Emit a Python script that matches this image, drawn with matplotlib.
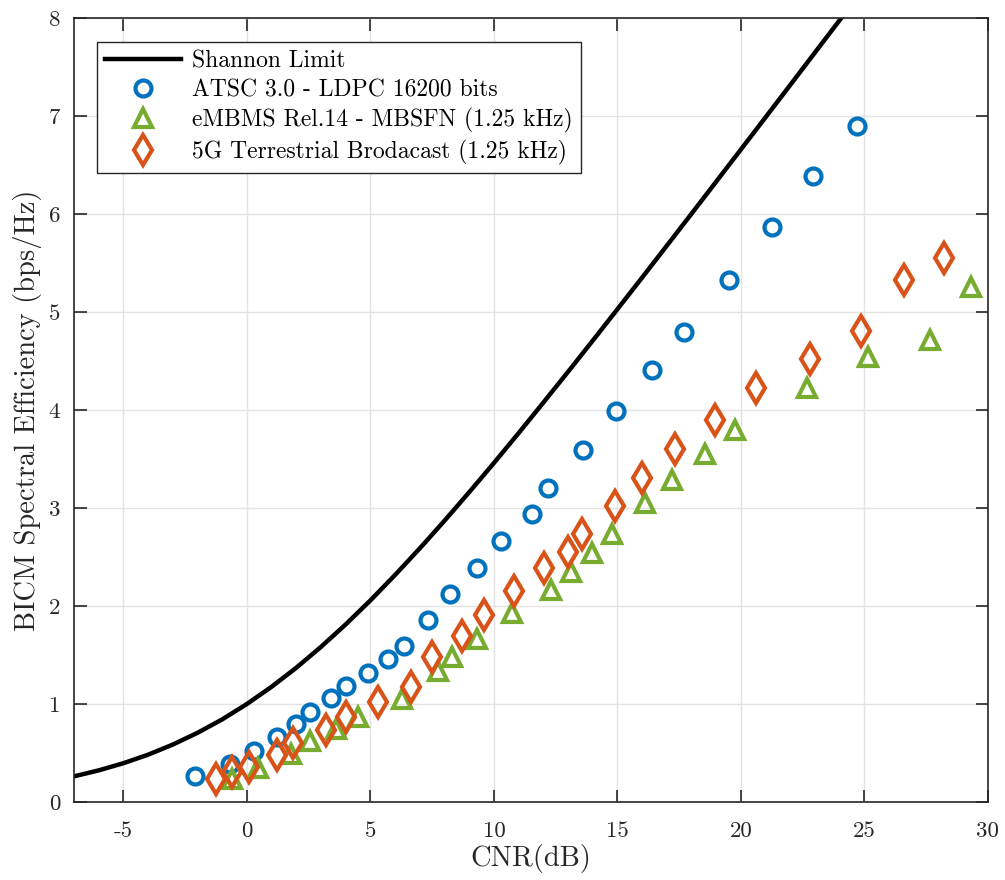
import matplotlib
matplotlib.use("Agg")
import matplotlib.pyplot as plt

plt.rcParams['font.family'] = 'serif'
plt.rcParams['font.serif'] = ['cmr10']
plt.rcParams['mathtext.fontset'] = 'cm'
plt.rcParams['axes.unicode_minus'] = False

# Shannon limit (bps/Hz) read at 1 dB steps
shannon_cnr = [-7, -6, -5, -4, -3, -2, -1, 0, 1, 2, 3, 4, 5, 6, 7, 8, 9, 10,
               11, 12, 13, 14, 15, 16, 17, 18, 19, 20, 21, 22, 23, 24, 25]
shannon_se = [0.262, 0.323, 0.396, 0.483, 0.586, 0.706, 0.843, 1.000, 1.176,
              1.370, 1.583, 1.812, 2.057, 2.317, 2.588, 2.870, 3.161, 3.459,
              3.764, 4.075, 4.389, 4.707, 5.028, 5.351, 5.676, 6.002, 6.330,
              6.658, 6.987, 7.317, 7.648, 7.978, 8.309]

atsc_cnr = [-2.1, -0.7, 0.28, 1.2, 2.0, 2.57, 3.4, 4.02, 4.9, 5.7, 6.38, 7.32,
            8.22, 9.33, 10.28, 11.53, 12.2, 13.6, 14.93, 16.4, 17.7, 19.53,
            21.26, 22.93, 24.72]
atsc_se = [0.265, 0.39, 0.52, 0.66, 0.80, 0.92, 1.06, 1.18, 1.32, 1.46, 1.59,
           1.86, 2.12, 2.39, 2.66, 2.94, 3.20, 3.59, 3.99, 4.41, 4.80, 5.33,
           5.87, 6.39, 6.90]

embms_cnr = [-0.6, 0.45, 1.8, 2.55, 3.6, 4.5, 6.3, 7.73, 8.29, 9.33, 10.72,
             12.3, 13.12, 13.98, 14.79, 16.11, 17.23, 18.56, 19.76, 22.66,
             25.13, 27.65, 29.3]
embms_se = [0.24, 0.35, 0.49, 0.62, 0.75, 0.87, 1.05, 1.34, 1.48, 1.66, 1.93,
            2.16, 2.35, 2.54, 2.73, 3.05, 3.29, 3.55, 3.80, 4.22, 4.54, 4.71,
            5.25]

g5_cnr = [-1.23, -0.6, 0.08, 1.2, 1.88, 3.2, 4.03, 5.32, 6.64, 7.48, 8.69,
          9.61, 10.81, 12.04, 13.0, 13.58, 14.9, 16.0, 17.34, 18.95, 20.6,
          22.8, 24.85, 26.61, 28.23]
g5_se = [0.235, 0.31, 0.36, 0.48, 0.60, 0.73, 0.87, 1.02, 1.17, 1.48, 1.69,
         1.91, 2.15, 2.39, 2.55, 2.73, 3.02, 3.31, 3.60, 3.90, 4.22, 4.52,
         4.81, 5.33, 5.55]

fig = plt.figure(figsize=(10.05, 8.8), dpi=100)
ax = fig.add_axes([0.0736, 0.0886, 0.9094, 0.891])

ax.plot(shannon_cnr, shannon_se, color='black', lw=3.2, label='Shannon Limit')
ax.plot(atsc_cnr, atsc_se, ls='none', marker='o', ms=11.5, mfc='none',
        mec='#0072BD', mew=3, label='ATSC 3.0 - LDPC 16200 bits')
ax.plot(embms_cnr, embms_se, ls='none', marker='^', ms=13.5, mfc='none',
        mec='#77AC30', mew=3, label='eMBMS Rel.14 - MBSFN (1.25 kHz)')
ax.plot(g5_cnr, g5_se, ls='none', marker='d', ms=15, mfc='none',
        mec='#D95319', mew=3, label='5G Terrestrial Brodacast (1.25 kHz)')

ax.set_xlim(-7, 30)
ax.set_ylim(0, 8)
ax.set_xticks([-5, 0, 5, 10, 15, 20, 25, 30])
ax.set_yticks(range(0, 9))
ax.grid(True, color='#e3e3e3', lw=1)
ax.set_axisbelow(True)
ax.tick_params(direction='in', length=9, width=1.2, top=True, right=True,
               labelsize=16.5, colors='#262626', labelcolor='#262626', pad=10)
ax.tick_params(axis='x', pad=14)
for s in ax.spines.values():
    s.set_color('#262626')
    s.set_linewidth(1.2)

ax.set_xlabel('CNR(dB)', fontsize=20.5, color='#262626', labelpad=2)
ax.set_ylabel('BICM Spectral Efficiency (bps/Hz)', fontsize=20.5,
              color='#262626', labelpad=5)

leg = ax.legend(loc='upper left', bbox_to_anchor=(0.025, 0.969),
                borderaxespad=0, fontsize=17, fancybox=False,
                edgecolor='#262626', framealpha=1, handlelength=3.2,
                labelspacing=0.28, borderpad=0.35, handletextpad=0.5)
leg.get_frame().set_linewidth(1)

fig.savefig('out.png', dpi=100)
